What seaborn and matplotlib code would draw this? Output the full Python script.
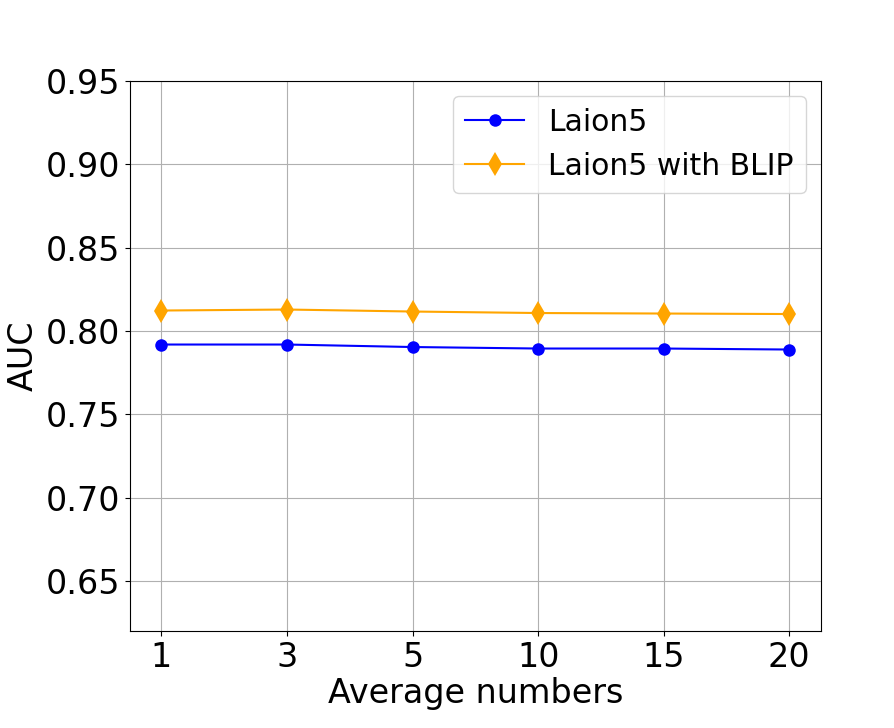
import seaborn as sns
import matplotlib.pyplot as plt
import pandas as pd

avg_numbers = ['1', '3', '5', '10', '15', '20']
laion5 = [0.7919, 0.7919, 0.7904, 0.7895, 0.7895, 0.7889]
laion5_blip = [0.8123, 0.8129, 0.8117, 0.8108, 0.8105, 0.8102]

df = pd.DataFrame({'avg': avg_numbers, 'Laion5': laion5, 'Laion5 with BLIP': laion5_blip})

plt.rcParams['font.family'] = ['DejaVu Sans']
fig, ax = plt.subplots(figsize=(8.94, 7.28), dpi=100)
fig.subplots_adjust(left=0.1454, right=0.918, bottom=0.1332, top=0.8887)

sns.lineplot(data=df, x='avg', y='Laion5', ax=ax, color='blue', marker='o',
             markersize=9, markeredgewidth=0, linewidth=1.5, label='Laion5', sort=False)
sns.lineplot(data=df, x='avg', y='Laion5 with BLIP', ax=ax, color='orange', marker='d',
             markersize=12, markeredgewidth=0, linewidth=1.5, label='Laion5 with BLIP', sort=False)

ax.set_ylim(0.62, 0.95)
ax.set_xlim(-0.25, 5.25)
ax.set_yticks([0.65, 0.70, 0.75, 0.80, 0.85, 0.90, 0.95])
ax.grid(True, color='#b0b0b0', linewidth=0.8)
ax.set_axisbelow(True)
ax.tick_params(labelsize=24)
ax.set_xlabel('Average numbers', fontsize=24, labelpad=2)
ax.set_ylabel('AUC', fontsize=24, labelpad=4)
ax.legend(fontsize=21.5, loc='upper right')

fig.savefig('out.png', dpi=100)
